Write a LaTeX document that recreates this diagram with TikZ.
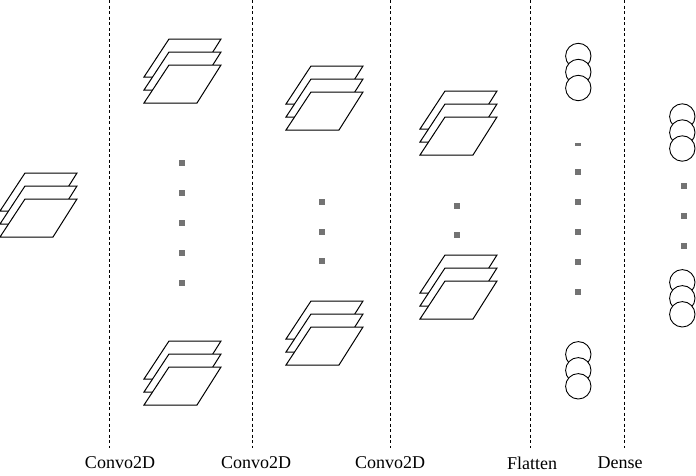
\documentclass[tikz,border=0pt]{standalone}
\usepackage{fontspec}
\setmainfont{Liberation Serif}
\usepackage{tikz}

\tikzset{
	plane/.style={draw=black, fill=white, line width=1pt, line join=miter},
	neuron/.style={draw=black, fill=white, line width=0.9pt},
	sep/.style={draw=black, dashed, dash pattern=on 3pt off 2.5pt, line width=0.9pt},
	dotc/.style={fill=black!55},
	lbl/.style={font=\fontsize{18}{20}\selectfont, inner sep=0pt}
}
\newcommand{\planestack}[2]{%
	\foreach \k in {26,13,0}
		{\filldraw[plane] (#1,#2-\k) -- ++(53,0) -- ++(24,-38) -- ++(-52,0) -- cycle;}
}
\newcommand{\neurons}[2]{%
	\foreach \k in {0,16,32}
		{\filldraw[neuron] (#1,#2+\k) circle[radius=12.7pt];}
}
\newcommand{\sqdot}[2]{\fill[dotc] (#1-3,#2-3) rectangle ++(6,6);}

\begin{document}
\begin{tikzpicture}[x=1pt, y=-1pt]
	\useasboundingbox (0,0) rectangle (696,475);

	\foreach \x in {109.5,252,390.7,530.7,624.3}
		\draw[sep] (\x,0) -- (\x,448);

	\planestack{0}{237}
	\planestack{144}{103}
	\planestack{144}{405}
	\planestack{286}{130}
	\planestack{286}{365}
	\planestack{420}{155}
	\planestack{420}{319}

	\foreach \y in {163,193,223,253,283}
		{\sqdot{182}{\y}}
	\foreach \y in {202,232,261}
		{\sqdot{322}{\y}}
	\foreach \y in {206,235}
		{\sqdot{456.5}{\y}}
	\fill[dotc] (574.5,142.5) rectangle ++(6,3);
	\foreach \y in {172,202,232,262,292}
		{\sqdot{577.7}{\y}}
	\foreach \y in {186,216,246}
		{\sqdot{684.3}{\y}}

	\neurons{578.3}{56}
	\neurons{578.3}{354.3}
	\neurons{682.3}{116.5}
	\neurons{682.3}{282.3}

	\node[lbl] (conv1) at (120,463) {Convo2D};
	\node[lbl] (conv2) at (256,463) {Convo2D};
	\node[lbl] (conv3) at (390,463) {Convo2D};
	\node[lbl] (flat) at (532,463) {Flatten};
	\node[lbl] (dense) at (620,463) {Dense};
\end{tikzpicture}
\end{document}
